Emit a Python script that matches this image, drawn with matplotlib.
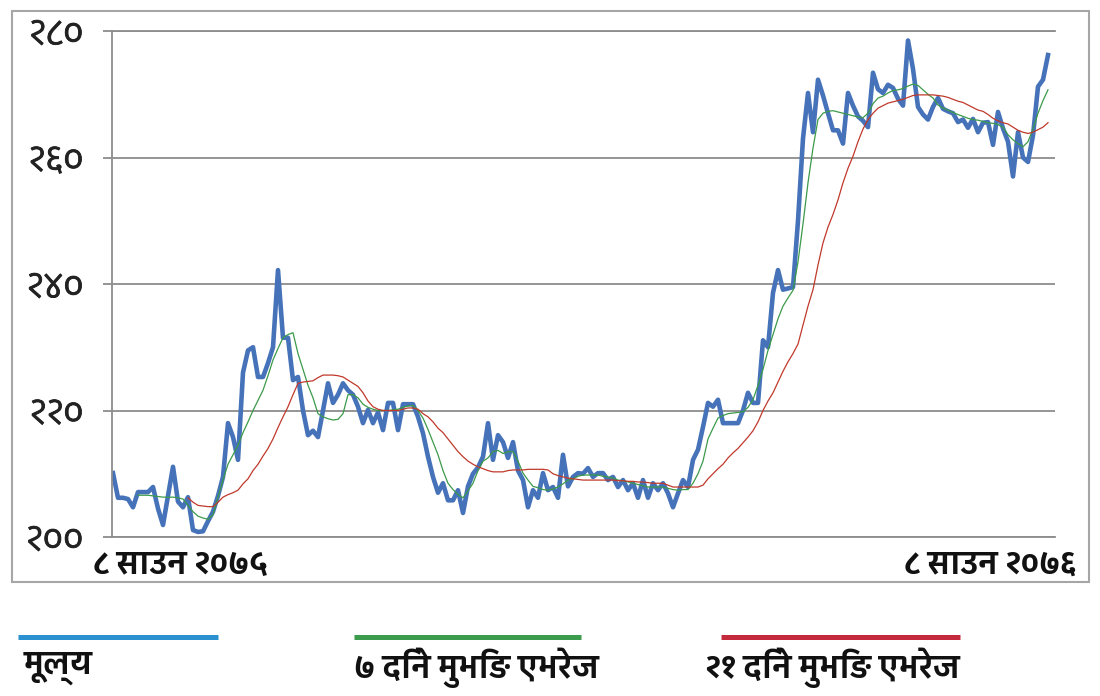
import numpy as np
import matplotlib
matplotlib.use("Agg")
import matplotlib.pyplot as plt
import matplotlib.patheffects as pe
from matplotlib import font_manager
from matplotlib.ft2font import FT2Font
from matplotlib.lines import Line2D
from matplotlib.patches import Rectangle

# Precio diario (un valor por sesion).
price = [
    210.1, 206.2, 206.2, 206.0, 204.7, 207.1, 207.1, 207.1, 207.9, 204.5,
    201.9, 206.5, 211.1, 205.6, 204.7, 206.3, 201.1, 200.8, 200.9, 202.5,
    204.0, 206.5, 209.5, 218.0, 215.8, 212.2, 226.0, 229.5, 230.0, 225.3,
    225.3, 227.5, 230.0, 242.2, 231.5, 231.5, 224.8, 225.3, 220.0, 216.1,
    216.8, 215.8, 220.0, 224.3, 221.2, 222.5, 224.3, 223.2, 222.5, 220.6,
    218.0, 220.1, 218.0, 219.7, 216.9, 221.2, 221.2, 216.9, 221.0, 221.0,
    221.0, 219.0, 216.4, 212.7, 209.5, 207.0, 208.5, 205.8, 205.8, 207.4,
    203.8, 208.0, 210.0, 211.0, 212.7, 218.0, 212.2, 216.1, 215.0, 212.5,
    215.0, 210.5, 209.0, 204.7, 207.4, 206.2, 210.1, 207.4, 207.9, 206.2,
    213.0, 208.0, 209.5, 210.1, 210.0, 210.9, 209.5, 210.1, 210.1, 209.0,
    209.5, 207.9, 209.0, 207.4, 208.5, 206.2, 209.0, 206.2, 208.5, 207.4,
    208.5, 206.9, 204.7, 206.9, 209.0, 207.9, 212.2, 213.8, 217.4, 221.2,
    220.6, 221.7, 218.0, 218.0, 218.0, 218.0, 220.0, 222.8, 221.2, 221.2,
    231.1, 230.0, 238.6, 242.2, 239.1, 239.3, 239.5, 250.0, 263.0, 270.2,
    264.0, 272.3, 269.8, 267.0, 264.3, 264.3, 262.2, 270.2, 268.2, 266.5,
    265.8, 264.8, 273.4, 270.8, 270.2, 271.5, 271.0, 269.3, 268.2, 278.5,
    274.0, 268.0, 266.8, 266.0, 268.0, 269.4, 267.7, 267.3, 267.0, 265.6,
    266.0, 264.7, 266.1, 264.0, 265.5, 265.6, 262.0, 267.2, 264.6, 262.5,
    257.0, 264.0, 260.0, 259.3, 263.5, 271.2, 272.3, 276.2,
]

# Media movil de 7 dias (termina en la misma sesion que el precio).
ma7 = [
    206.6, 206.6, 206.6, 206.5, 206.4, 206.3, 206.3, 206.3, 206.2, 206.0,
    205.0, 204.0, 203.3, 203.0, 202.8, 203.5, 206.3, 209.0, 211.5, 213.0,
    214.5, 216.5, 218.2, 220.0, 221.6, 223.2, 225.5, 228.0, 229.8, 231.5,
    232.0, 232.3, 229.0, 226.5, 224.0, 222.0, 219.5, 219.0, 218.7, 218.5,
    218.6, 219.5, 222.5, 222.5, 222.0, 221.0, 220.5, 220.2, 220.0, 220.0,
    220.0, 220.1, 220.2, 220.5, 220.7, 220.8, 220.0, 218.8, 217.0, 215.0,
    213.0, 210.5, 208.5, 207.5, 206.7, 206.2, 207.3, 208.5, 210.5, 212.0,
    212.5, 213.5, 213.7, 213.2, 213.5, 213.5, 212.0, 210.1, 209.0, 208.0,
    207.8, 207.5, 207.4, 207.6, 207.9, 208.4, 209.0, 209.2, 209.6, 209.8,
    209.8, 209.8, 209.8, 209.6, 209.5, 209.3, 209.0, 208.9, 208.7, 208.5,
    208.3, 208.1, 207.9, 207.9, 207.9, 207.9, 207.7, 207.5, 207.4, 207.5,
    207.5, 208.5, 210.0, 212.0, 215.5, 217.2, 218.8, 219.2, 219.5, 219.6,
    219.7, 219.8, 220.5, 221.7, 224.0, 226.5, 229.5, 232.0, 234.5, 236.5,
    237.8, 239.0, 243.5, 249.5, 256.0, 261.5, 266.0, 267.0, 267.3, 267.4,
    267.2, 267.0, 266.8, 266.6, 266.4, 266.3, 267.0, 268.5, 269.4, 269.7,
    270.2, 270.6, 270.7, 270.9, 271.3, 271.6, 271.4, 270.7, 270.0, 269.4,
    268.3, 267.8, 267.5, 267.1, 266.8, 266.5, 266.2, 266.0, 265.9, 265.7,
    265.5, 265.4, 265.2, 264.8, 263.6, 262.8, 262.2, 261.7, 262.5, 264.5,
    267.0, 269.0, 270.7,
]

# Media movil de 21 dias.
ma21 = [
    206.2, 205.5, 205.0, 204.9, 204.8, 204.8, 205.5, 206.3, 206.7, 207.0,
    207.4, 208.4, 209.2, 210.5, 211.5, 212.8, 214.0, 215.5, 217.3, 219.0,
    220.6, 222.5, 224.3, 224.5, 224.6, 224.7, 225.2, 225.6, 225.6, 225.6,
    225.5, 225.3, 224.8, 224.3, 223.8, 222.8, 221.5, 220.6, 220.2, 220.0,
    220.0, 220.0, 220.0, 220.2, 220.4, 220.4, 220.2, 219.5, 219.0, 218.2,
    217.2, 216.5, 215.5, 214.5, 213.5, 212.7, 212.0, 211.5, 211.1, 210.8,
    210.5, 210.3, 210.3, 210.3, 210.5, 210.6, 210.6, 210.6, 210.7, 210.7,
    210.7, 210.7, 210.6, 210.0, 209.7, 209.5, 209.3, 209.2, 209.1, 209.0,
    209.0, 209.0, 209.0, 209.0, 209.0, 209.0, 208.9, 208.9, 208.8, 208.8,
    208.7, 208.7, 208.6, 208.5, 208.5, 208.5, 208.2, 207.9, 207.9, 207.9,
    207.9, 207.9, 207.9, 208.2, 209.2, 210.0, 210.8, 211.5, 212.5, 213.3,
    214.0, 214.9, 215.8, 216.8, 218.2, 220.0, 221.5, 222.8, 224.5, 226.2,
    227.7, 229.0, 230.5, 233.5, 236.5, 239.1, 243.0, 246.5, 249.0, 251.0,
    253.3, 256.0, 258.3, 260.2, 262.5, 264.5, 266.0, 267.0, 267.8, 268.2,
    268.6, 268.8, 269.0, 269.2, 269.5, 269.8, 269.9, 269.9, 269.9, 269.9,
    269.8, 269.7, 269.5, 269.2, 268.9, 268.7, 268.3, 267.9, 267.5, 267.3,
    266.8, 266.2, 265.8, 265.5, 265.3, 264.8, 264.3, 264.0, 263.8, 264.0,
    264.4, 264.8, 265.5,
]

y_ticks = [200, 220, 240, 260, 280]
y_labels = ["२००", "२२०", "२४०", "२६०", "२८०"]
date_labels = ["८ साउन २०७५", "८ साउन २०७६"]
series_names = ["मूल्य", "७ दिने मुभिङ एभरेज", "२१ दिने मुभिङ एभरेज"]


# Busca una fuente instalada con glifos devanagari (mejor si tiene negrita).
def find_devanagari_font():
    found = {}
    for f in font_manager.fontManager.ttflist:
        try:
            if ord("क") in FT2Font(f.fname).get_charmap():
                w = f.weight if isinstance(f.weight, int) else 400
                found[f.name] = max(found.get(f.name, 0), w)
        except Exception:
            continue
    if not found:
        return None, False
    name = max(found, key=lambda n: (found[n] >= 700, "Devanagari" in n))
    return name, found[name] >= 700


deva, has_bold = find_devanagari_font()
plt.rcParams["font.family"] = [deva, "DejaVu Sans"] if deva else ["DejaVu Sans"]

# Si no hay negrita real se engrosa el trazo.
if has_bold:
    bold_fx = []
else:
    bold_fx = [pe.withStroke(linewidth=1.3, foreground="#111111")]

W, H = 1100, 696
days = np.arange(len(price))
x7 = days[len(price) - len(ma7):]
x21 = days[len(price) - len(ma21):]

fig = plt.figure(figsize=(W / 100, H / 100), dpi=100)
ax = fig.add_axes([112 / W, 1 - 537 / H, (1055 - 112) / W, (537 - 31) / H])

ax.plot(days, price, color="#4572b8", lw=3.3)
ax.plot(x7, ma7, color="#3c9a4a", lw=0.9)
ax.plot(x21, ma21, color="#c0392b", lw=0.9)

ax.set_xlim(-0.2, 188.4)
ax.set_ylim(200, 280)
ax.set_xticks([])
ax.set_yticks(y_ticks)
ax.set_yticklabels(y_labels, fontsize=25, color="#222222")
for t in ax.get_yticklabels():
    t.set_path_effects([pe.withStroke(linewidth=0.6, foreground="#222222")])
ax.grid(axis="y", color="#8c8c8c", lw=1.3)
ax.set_axisbelow(True)
ax.spines["right"].set_visible(False)
for side in ["top", "bottom", "left"]:
    ax.spines[side].set_color("#8c8c8c")
    ax.spines[side].set_linewidth(1.3)
ax.tick_params(axis="y", length=6.5, width=1.3, color="#8c8c8c", pad=14)

# Fechas de inicio y fin debajo del eje.
fig.text(93 / W, 1 - 565 / H, date_labels[0], ha="left", va="center",
         fontsize=22.5, fontweight="bold", color="#111111", path_effects=bold_fx)
fig.text(1076 / W, 1 - 565 / H, date_labels[1], ha="right", va="center",
         fontsize=22.5, fontweight="bold", color="#111111", path_effects=bold_fx)

# Marco gris alrededor del grafico.
fig.add_artist(Rectangle((12 / W, 1 - 582 / H), (1089 - 12) / W, (582 - 11) / H,
                         transform=fig.transFigure, fill=False,
                         ec="#a6a6a6", lw=1.5))

# Leyenda: linea arriba, texto abajo.
legend_colors = ["#2a90d0", "#3a9c4c", "#c42a3c"]
legend_spans = [(18, 218), (354, 581), (721, 960)]
legend_text_x = [24, 354, 705]
for name, col, (x0, x1), tx in zip(series_names, legend_colors,
                                   legend_spans, legend_text_x):
    fig.add_artist(Line2D([x0 / W, x1 / W], [1 - 637 / H] * 2,
                          transform=fig.transFigure, color=col, lw=3.6,
                          solid_capstyle="butt"))
    fig.text(tx / W, 1 - 668 / H, name, ha="left", va="center",
             fontsize=22.5, fontweight="bold", color="#111111",
             path_effects=bold_fx)

fig.savefig("out.png", dpi=100)
